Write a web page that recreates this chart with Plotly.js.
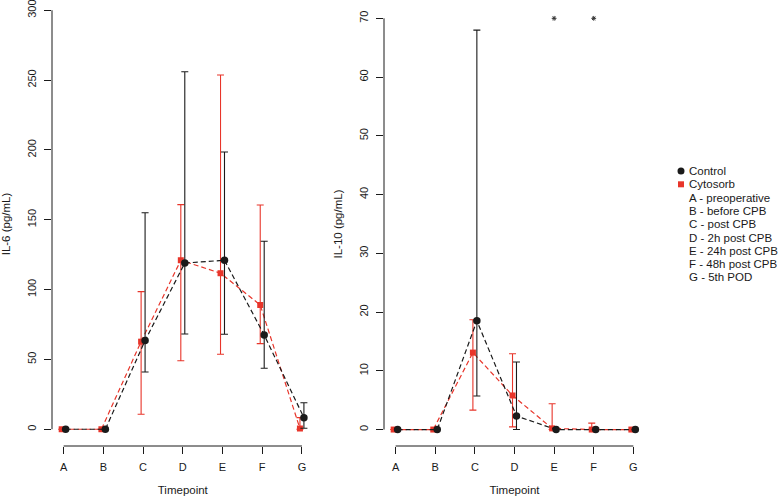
<!DOCTYPE html>
<html>
<head>
<meta charset="utf-8">
<script src="https://cdn.plot.ly/plotly-3.0.1.min.js"></script>
<style>html,body{margin:0;padding:0;background:#fff;}#chart{width:778px;height:501px;}</style>
</head>
<body>
<div id="chart"></div>
<script>
// Timepoints
const timepoints = ['A','B','C','D','E','F','G'];
const timepointLabels = ['A - preoperative','B - before CPB','C - post CPB','D - 2h post CPB','E - 24h post CPB','F - 48h post CPB','G - 5th POD'];

// IL-6 (pg/mL)
const il6Control      = [0, 0, 63.5, 119, 121, 67.5, 8.3];
const il6ControlUpper = [0, 0, 155, 256, 198.5, 134.6, 19];
const il6ControlLower = [0, 0, 41, 68.2, 68, 43.7, 0.7];
const il6Cyto         = [0, 0, 62.7, 121, 111.7, 89, 0.5];
const il6CytoUpper    = [0, 0, 98.5, 160.8, 253.6, 160.6, 8.3];
const il6CytoLower    = [0, 0, 10.7, 49, 53.7, 61.3, 0];
const il6Ticks        = [0, 50, 100, 150, 200, 250, 300];

// IL-10 (pg/mL)
const il10Control      = [0, 0, 18.5, 2.3, 0, 0, 0];
const il10ControlUpper = [0, 0, 68, 11.5, 0, 0, 0];
const il10ControlLower = [0, 0, 5.7, 0, 0, 0, 0];
const il10Cyto         = [0, 0, 13.1, 5.8, 0.2, 0, 0];
const il10CytoUpper    = [0, 0, 18.7, 12.9, 4.4, 1.1, 0];
const il10CytoLower    = [0, 0, 3.3, 0.45, 0, 0, 0];
const il10Significant  = [false, false, false, false, true, true, false];
const il10Ticks        = [0, 10, 20, 30, 40, 50, 60, 70];

const BLACK = '#1a1a1a';
const RED = '#e8352a';
const FONT = 'Liberation Sans, Arial, Helvetica, sans-serif';
const FS_TICK = 11, FS_TITLE = 11.5, FS_LEG = 11.5;
const OFF = 0.05;

const idx = timepoints.map((_, i) => i);
function trace(vals, up, lo, color, symbol, size, dx, xa, ya, name) {
  return {
    type: 'scatter', mode: 'lines+markers', name: name,
    x: idx.map(i => i + dx), y: vals,
    xaxis: xa, yaxis: ya, showlegend: false, hoverinfo: 'skip',
    line: {color: color, width: 1.2, dash: '5px,3px'},
    marker: {color: color, symbol: symbol, size: size},
    error_y: {type: 'data', symmetric: false,
      array: up.map((u, i) => Math.max(0, u - vals[i])),
      arrayminus: lo.map((l, i) => Math.max(0, vals[i] - l)),
      color: color, thickness: 1.1, width: 3.5}
  };
}

const sigIdx = idx.filter(i => il10Significant[i]);
const data = [
  trace(il6Cyto, il6CytoUpper, il6CytoLower, RED, 'square', 6, -OFF, 'x', 'y', 'Cytosorb'),
  trace(il6Control, il6ControlUpper, il6ControlLower, BLACK, 'circle', 7.5, OFF, 'x', 'y', 'Control'),
  trace(il10Cyto, il10CytoUpper, il10CytoLower, RED, 'square', 6, -OFF, 'x2', 'y2', 'Cytosorb'),
  trace(il10Control, il10ControlUpper, il10ControlLower, BLACK, 'circle', 7.5, OFF, 'x2', 'y2', 'Control'),
  {type: 'scatter', mode: 'markers', x: sigIdx, y: sigIdx.map(() => 70),
   xaxis: 'x2', yaxis: 'y2', showlegend: false, hoverinfo: 'skip',
   marker: {symbol: 'asterisk-open', size: 4, color: '#333', line: {color: '#333', width: 1}}}
];

const W = 778, H = 501, MT = 2, MB = 55;
const PH = H - MT - MB;
const dom1 = [52 / W, 313.6 / W];
const dom2 = [384 / W, 645 / W];

function xaxis(dom, anchor) {
  return {domain: dom, anchor: anchor, range: [-0.294, 6.294],
    tickmode: 'array', tickvals: idx, ticktext: timepoints,
    showline: false, showgrid: false, zeroline: false,
    ticks: 'outside', ticklen: 7, tickwidth: 1, tickcolor: BLACK,
    ticklabelstandoff: 4, ticklabeloverflow: 'allow',
    tickfont: {family: FONT, size: FS_TICK, color: BLACK},
    title: {text: 'Timepoint', font: {family: FONT, size: FS_TITLE, color: BLACK}, standoff: 13}};
}
function yaxis(range, ticks, anchor, title) {
  return {domain: [0, 1], anchor: anchor, range: range,
    tickmode: 'array', tickvals: ticks, ticktext: ticks.map(String),
    showline: false, showgrid: false, zeroline: false,
    ticks: 'outside', ticklen: 7, tickwidth: 1, tickcolor: BLACK,
    tickangle: -90, ticklabelstandoff: 4, ticklabeloverflow: 'allow',
    tickfont: {family: FONT, size: FS_TICK, color: BLACK},
    title: {text: title, font: {family: FONT, size: FS_TITLE, color: BLACK}, standoff: 12}};
}

const shapes = [
  {type: 'line', xref: 'x', yref: 'paper', x0: 0, x1: 6, y0: 0, y1: 0, line: {color: BLACK, width: 1}},
  {type: 'line', xref: 'paper', yref: 'y', x0: dom1[0], x1: dom1[0], y0: 0, y1: 300, line: {color: BLACK, width: 1}},
  {type: 'line', xref: 'x2', yref: 'paper', x0: 0, x1: 6, y0: 0, y1: 0, line: {color: BLACK, width: 1}},
  {type: 'line', xref: 'paper', yref: 'y2', x0: dom2[0], x1: dom2[0], y0: 0, y1: 70, line: {color: BLACK, width: 1}}
];

// legend (drawn manually to match spacing)
const legX = 688 / W;
const legItems = ['Control', 'Cytosorb'].concat(timepointLabels);
const legY0 = 171, legStep = 13.3;
const py = p => (H - MB - p) / PH;
const annotations = legItems.map((t, i) => ({
  xref: 'paper', yref: 'paper', x: legX, y: py(legY0 + i * legStep),
  xanchor: 'left', yanchor: 'middle', showarrow: false, text: t, borderpad: 0,
  font: {family: FONT, size: FS_LEG, color: BLACK}
}));
shapes.push({type: 'circle', xref: 'paper', yref: 'paper', xsizemode: 'pixel', ysizemode: 'pixel',
  xanchor: 681 / W, yanchor: py(legY0), x0: -3.5, x1: 3.5, y0: -3.5, y1: 3.5,
  fillcolor: BLACK, line: {width: 0}});
shapes.push({type: 'rect', xref: 'paper', yref: 'paper', xsizemode: 'pixel', ysizemode: 'pixel',
  xanchor: 681 / W, yanchor: py(legY0 + legStep), x0: -3, x1: 3, y0: -3, y1: 3,
  fillcolor: RED, line: {width: 0}});

const layout = {
  width: W, height: H, margin: {l: 0, r: 0, t: MT, b: MB},
  paper_bgcolor: '#fff', plot_bgcolor: '#fff', showlegend: false,
  font: {family: FONT, size: FS_TICK, color: BLACK},
  xaxis: xaxis(dom1, 'y'),
  yaxis: yaxis([-12, 305.9], il6Ticks, 'x', 'IL-6 (pg/mL)'),
  xaxis2: xaxis(dom2, 'y2'),
  yaxis2: yaxis([-2.8, 72.78], il10Ticks, 'x2', 'IL-10 (pg/mL)'),
  shapes: shapes, annotations: annotations
};

Plotly.newPlot('chart', data, layout, {displayModeBar: false, staticPlot: true});
</script>
</body>
</html>
